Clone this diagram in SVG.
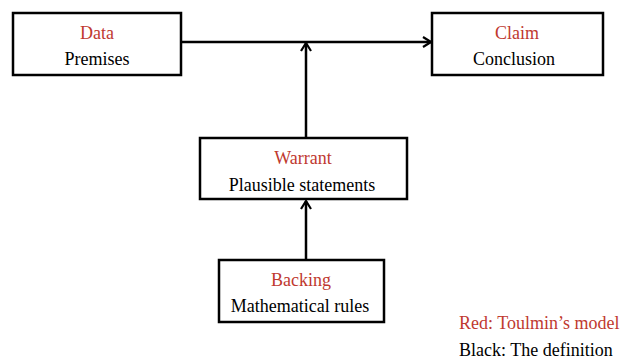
<svg xmlns="http://www.w3.org/2000/svg" width="620" height="359" viewBox="0 0 620 359">
<style>
.box{fill:#fff;stroke:#000;stroke-width:2.5}
.t{font-family:"Liberation Serif","Times New Roman",serif;font-size:18px;text-anchor:middle;fill:#000}
.r{fill:#c0392f}
.edge{stroke:#000;stroke-width:2.5;fill:none}
.leg{font-family:"Liberation Serif","Times New Roman",serif;font-size:18px}
</style>
<defs>
<marker id="arr" viewBox="0 0 12 12" refX="11" refY="6" markerWidth="12" markerHeight="12" markerUnits="userSpaceOnUse" orient="auto">
<path d="M3,1 L11,6 L3,11" fill="none" stroke="#000" stroke-width="2.2"/>
</marker>
</defs>
<rect width="620" height="359" fill="#fff"/>
<g id="connectors">
<line class="edge" x1="181" y1="42" x2="431" y2="42" marker-end="url(#arr)"/>
<line class="edge" x1="306" y1="138" x2="306" y2="43" marker-end="url(#arr)"/>
<line class="edge" x1="306" y1="260" x2="306" y2="201" marker-end="url(#arr)"/>
</g>
<g id="data">
<rect class="box" x="13" y="13" width="168" height="62"/>
<text class="t r" x="97" y="39">Data</text>
<text class="t" x="97" y="65">Premises</text>
</g>
<g id="claim">
<rect class="box" x="432" y="13" width="171" height="62"/>
<text class="t r" x="517" y="39">Claim</text>
<text class="t" x="514" y="65">Conclusion</text>
</g>
<g id="warrant">
<rect class="box" x="200" y="138" width="207" height="61"/>
<text class="t r" x="303" y="164">Warrant</text>
<text class="t" x="302" y="191">Plausible statements</text>
</g>
<g id="backing">
<rect class="box" x="219" y="260" width="165" height="62"/>
<text class="t r" x="301" y="286">Backing</text>
<text class="t" x="300" y="312">Mathematical rules</text>
</g>
<g id="legend">
<text class="leg r" x="459" y="329">Red: Toulmin’s model</text>
<text class="leg" x="459" y="356">Black: The definition</text>
</g>
</svg>
